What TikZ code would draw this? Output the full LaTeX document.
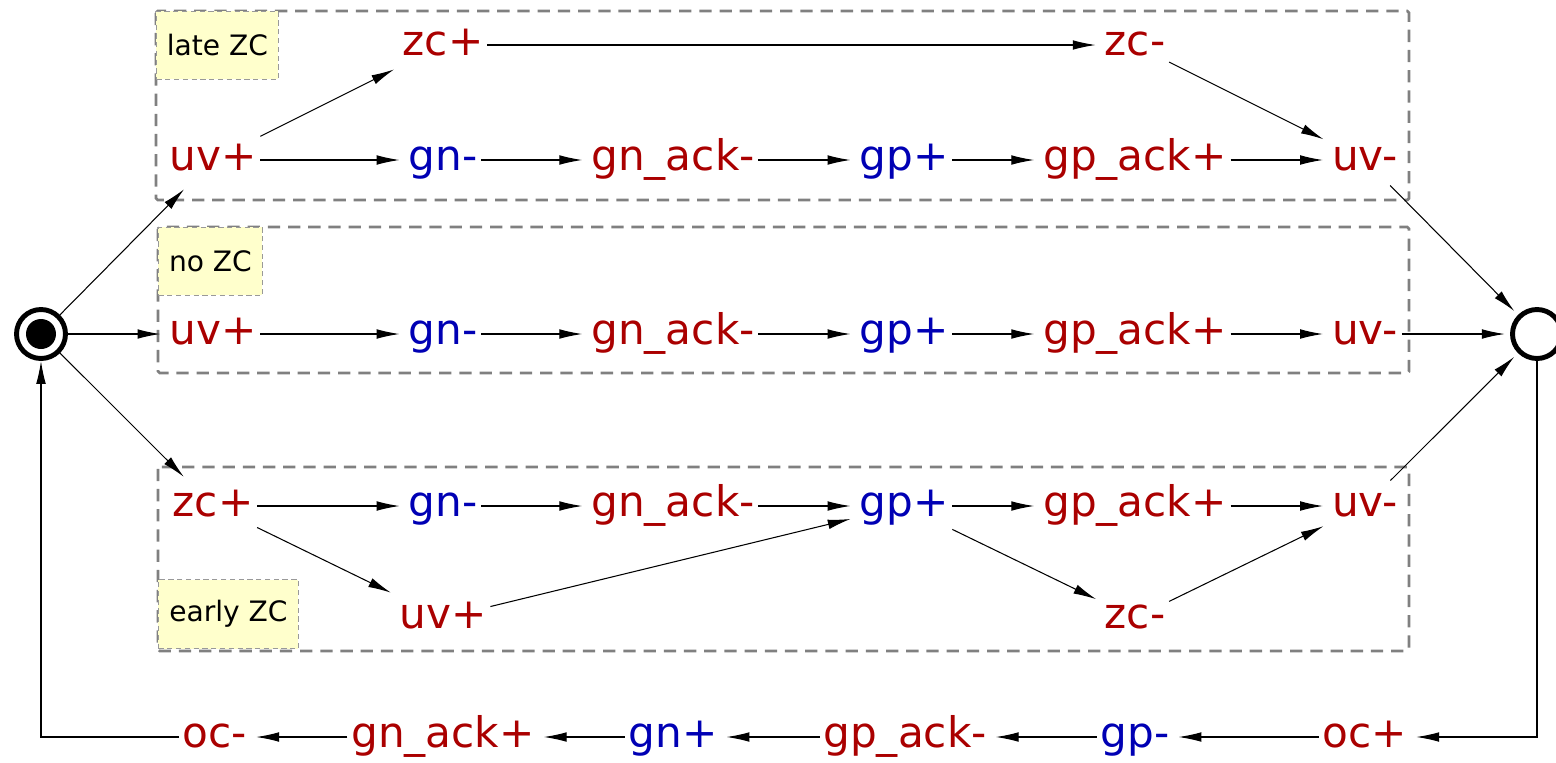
\documentclass[tikz,border=0pt]{standalone}
\usepackage{fontspec}
\setmainfont{DejaVu Sans}
\usetikzlibrary{arrows.meta}

\definecolor{sigred}{RGB}{170,0,0}
\definecolor{sigblue}{RGB}{0,0,180}
\definecolor{notefill}{RGB}{255,255,204}

\tikzset{
  sig/.style={font=\fontsize{24}{28}\selectfont, inner xsep=2pt, inner ysep=6pt,
              text height=14pt, text depth=2.6pt},
  rsig/.style={sig, text=sigred},
  bsig/.style={sig, text=sigblue},
  group/.style={draw=black!50, line width=1.6pt, dash pattern=on 7pt off 4.5pt, rounded corners=1pt},
  note/.style={draw=gray!80, fill=notefill, line width=0.5pt, dash pattern=on 3pt off 2pt,
               font=\fontsize{16}{19}\selectfont, inner sep=0pt},
  place/.style={circle, draw, line width=2.8pt, minimum size=0.98cm, inner sep=0pt}
}

\begin{document}
\begin{tikzpicture}[x=0.02cm, y=-0.02cm, >={Latex[length=13pt,width=5.5pt]}]
  \useasboundingbox (0,0) rectangle (1556,762);

  % groups
  \draw[group] (156,11)  rectangle (1409,200);
  \draw[group] (158,227) rectangle (1409,373);
  \draw[group] (158,467) rectangle (1409,651);

  \node[note, anchor=north west, minimum width=2.44cm, minimum height=1.36cm] (lateZC)  at (156,11)  {late ZC};
  \node[note, anchor=north west, minimum width=2.08cm, minimum height=1.36cm] (noZC)    at (158,227) {no ZC};
  \node[note, anchor=south west, minimum width=2.80cm, minimum height=1.38cm] (earlyZC) at (158,649) {early ZC};

  % start and end places
  \node[place] (start) at (41,334)   {};
  \fill (start.center) circle (15);
  \node[place] (end)   at (1537,334) {};

  % late ZC
  \node[rsig] (uvpL)  at (213,160)  {uv+};
  \node[rsig] (zcpL)  at (443,45)   {zc+};
  \node[bsig] (gnmL)  at (443,160)  {gn-};
  \node[rsig] (gnakL) at (673,160)  {gn\_ack-};
  \node[bsig] (gppL)  at (904,160)  {gp+};
  \node[rsig] (zcmL)  at (1135,45)  {zc-};
  \node[rsig] (gpakL) at (1135,160) {gp\_ack+};
  \node[rsig] (uvmL)  at (1365,160) {uv-};

  % no ZC
  \node[rsig] (uvpN)  at (213,334)  {uv+};
  \node[bsig] (gnmN)  at (443,334)  {gn-};
  \node[rsig] (gnakN) at (673,334)  {gn\_ack-};
  \node[bsig] (gppN)  at (904,334)  {gp+};
  \node[rsig] (gpakN) at (1135,334) {gp\_ack+};
  \node[rsig] (uvmN)  at (1365,334) {uv-};

  % early ZC
  \node[rsig] (zcpE)  at (213,506)  {zc+};
  \node[bsig] (gnmE)  at (443,506)  {gn-};
  \node[rsig] (uvpE)  at (443,618)  {uv+};
  \node[rsig] (gnakE) at (673,506)  {gn\_ack-};
  \node[bsig] (gppE)  at (904,506)  {gp+};
  \node[rsig] (gpakE) at (1135,506) {gp\_ack+};
  \node[rsig] (zcmE)  at (1135,618) {zc-};
  \node[rsig] (uvmE)  at (1365,506) {uv-};

  % return path
  \node[rsig] (ocm)   at (215,737)  {oc-};
  \node[rsig] (gnakp) at (443,737)  {gn\_ack+};
  \node[bsig] (gnp)   at (673,737)  {gn+};
  \node[rsig] (gpakm) at (905,737)  {gp\_ack-};
  \node[bsig] (gpm)   at (1135,737) {gp-};
  \node[rsig] (ocp)   at (1365,737) {oc+};

  \begin{scope}[every edge/.style={draw, ->, line width=0.6pt, shorten >=3pt}]
    \path (start) edge (uvpL);
    \path (start) edge (uvpN);
    \path (start) edge (zcpE);

    \path (uvpL)  edge (zcpL);
    \path (zcpL)  edge (zcmL);
    \path (zcmL)  edge (uvmL);
    \path (uvpL)  edge (gnmL);
    \path (gnmL)  edge (gnakL);
    \path (gnakL) edge (gppL);
    \path (gppL)  edge (gpakL);
    \path (gpakL) edge (uvmL);

    \path (uvpN)  edge (gnmN);
    \path (gnmN)  edge (gnakN);
    \path (gnakN) edge (gppN);
    \path (gppN)  edge (gpakN);
    \path (gpakN) edge (uvmN);

    \path (zcpE)  edge (gnmE);
    \path (gnmE)  edge (gnakE);
    \path (gnakE) edge (gppE);
    \path (gppE)  edge (gpakE);
    \path (gpakE) edge (uvmE);
    \path (zcpE)  edge (uvpE);
    \path (uvpE)  edge (gppE);
    \path (gppE)  edge (zcmE);
    \path (zcmE)  edge (uvmE);

    \path (uvmL)  edge (end);
    \path (uvmN)  edge (end);
    \path (uvmE)  edge (end);

    \path (ocp)   edge (gpm);
    \path (gpm)   edge (gpakm);
    \path (gpakm) edge (gnp);
    \path (gnp)   edge (gnakp);
    \path (gnakp) edge (ocm);
  \end{scope}

  \draw[->, line width=0.6pt, shorten >=3pt] (end) |- (ocp);
  \draw[->, line width=0.6pt] (ocm) -| (start);

\end{tikzpicture}
\end{document}
